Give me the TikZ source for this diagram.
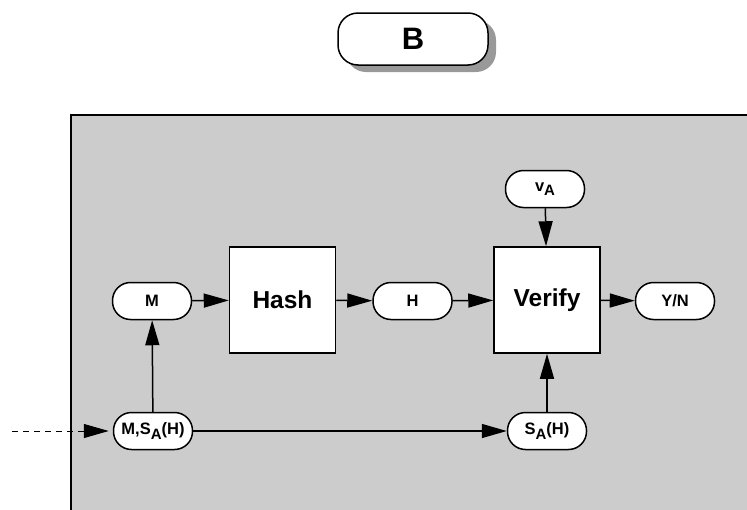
\documentclass[tikz,border=0pt]{standalone}
\usepackage{fontspec}
\setmainfont{Liberation Sans}
\usetikzlibrary{arrows.meta}
\definecolor{panelgray}{HTML}{CCCCCC}
\definecolor{shadowgray}{HTML}{999999}
\newcommand{\subA}{\raisebox{-4.5pt}{\fontsize{15}{15}\selectfont A}}
\begin{document}
\begin{tikzpicture}[x=1pt,y=-1pt,
  pill/.style={draw=black,line width=1.5pt,fill=white,rounded corners=18pt,
    minimum width=79pt,minimum height=37pt,inner sep=0pt,font=\fontsize{16.5}{16.5}\selectfont\bfseries},
  blockbox/.style={draw=black,line width=1.5pt,fill=white,minimum width=106pt,minimum height=106pt,
    inner sep=0pt,font=\fontsize{24.5}{24.5}\selectfont\bfseries},
  conn/.style={line width=1.5pt,-{Triangle[length=25pt,width=14pt]}},
  plainconn/.style={line width=1.5pt}]
\useasboundingbox (0,0) rectangle (747,509);
% panel
\fill[panelgray] (71,115) rectangle (760,520);
\draw[line width=2pt] (71,520) -- (71,115) -- (760,115);
% title with shadow
\fill[shadowgray,rounded corners=20pt] (346,20) rectangle (496,72);
\node[draw=black,line width=1.5pt,fill=white,rounded corners=20pt,minimum width=150pt,minimum height=52pt,
  inner sep=0pt,font=\fontsize{31}{31}\selectfont\bfseries] (title) at (413,39) {B};
% nodes
\node[pill] (M) at (152,301) {M};
\node[blockbox] (hash) at (282.5,300) {Hash};
\node[pill] (H) at (412.5,301) {H};
\node[blockbox] (verify) at (547,300) {Verify};
\node[pill] (yn) at (675,301) {Y/N};
\node[pill] (va) at (545,189) {v\subA};
\node[pill] (ms) at (153,431) {M,S\subA(H)};
\node[pill] (sa) at (547,431) {S\subA(H)};
\coordinate (ext) at (12,431);
% connectors
\draw[conn] (M) -- (hash);
\draw[conn] (hash) -- (H);
\draw[conn] (H) -- (verify);
\draw[conn] (verify) -- (yn);
\draw[conn] (va) -- (verify);
\draw[conn] (sa) -- (verify);
\draw[conn] (ms) -- (M);
\draw[conn] (ms) -- (sa);
\draw[line width=1pt,dash pattern=on 6pt off 5pt] (ext) -- (83,431);
\draw[line width=1pt,-{Triangle[length=25pt,width=14pt]}] (83,431) -- ([xshift=-4pt]ms.west);
\end{tikzpicture}
\end{document}
